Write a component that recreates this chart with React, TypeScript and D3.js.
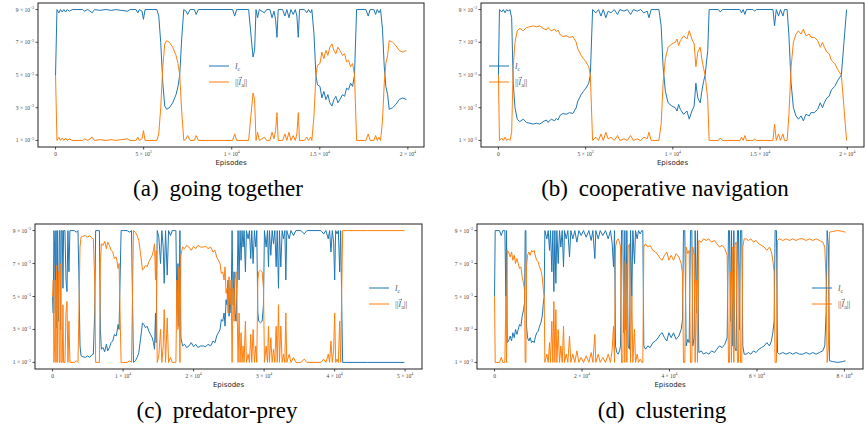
import React from "react";
import * as d3 from "d3";

type Row = [number, number, number]; // episode, l_c, ||l_a||  (values in 1e-3)

// (a) going together
const togetherRows: Row[] = [
  [0,5.0,5.0],[80,9.0,1.0],[190,8.8,1.2],[280,9.0,1.0],[380,8.85,1.15],[470,9.0,1.0],[570,8.85,1.15],[660,9.0,1.0],[790,8.9,1.1],[950,9.0,1.0],
  [1550,9.0,1.0],[1640,8.9,1.1],[1830,9.0,1.0],[2080,8.8,1.2],[2210,9.0,1.0],[2490,8.95,1.05],[2870,9.0,1.0],[3160,8.95,1.05],[3440,9.0,1.0],[3720,8.95,1.05],
  [4100,8.9,1.1],[4230,9.0,1.0],[4570,9.0,1.0],[4670,8.8,1.2],[4760,9.0,1.0],[4910,8.9,1.1],[4990,8.4,1.6],[5080,9.0,1.0],[5750,9.0,1.0],[5860,8.6,1.4],
  [5970,7.0,3.0],[6090,4.5,5.5],[6200,3.1,6.9],[6310,2.9,7.1],[6460,3.0,7.0],[6650,3.3,6.7],[6840,3.8,6.2],[6950,4.3,5.7],[7050,5.0,5.0],[7160,7.2,2.8],
  [7280,9.0,1.0],[7410,8.9,1.1],[7500,8.7,1.3],[7640,9.0,1.0],[7880,9.0,1.0],[7980,8.7,1.3],[8110,9.0,1.0],[10050,9.0,1.0],[10170,8.6,1.4],[10280,9.0,1.0],
  [10960,9.0,1.0],[11090,7.5,2.5],[11210,6.1,3.9],[11300,6.5,3.5],[11380,9.0,1.0],[11470,8.5,1.5],[11570,9.0,1.0],[11850,8.8,1.2],[11980,9.0,1.0],[12170,9.0,1.0],
  [12290,8.5,1.5],[12400,8.9,1.1],[12490,8.4,1.6],[12570,7.3,2.7],[12640,9.0,1.0],[12890,9.0,1.0],[13020,8.6,1.4],[13130,9.0,1.0],[13250,8.5,1.5],[13360,9.0,1.0],
  [13490,8.7,1.3],[13610,9.0,1.0],[13700,8.6,1.4],[13780,7.3,2.7],[13850,9.0,1.0],[14120,9.0,1.0],[14260,8.8,1.2],[14360,9.0,1.0],[14480,8.8,1.2],[14550,9.0,1.0],
  [14670,7.5,2.5],[14780,5.0,5.0],[14870,4.4,5.6],[15010,4.3,5.7],[15120,3.6,6.4],[15230,4.0,6.0],[15350,3.5,6.5],[15460,3.8,6.2],[15570,3.3,6.7],[15690,3.1,6.9],
  [15800,3.5,6.5],[15910,3.7,6.3],[16030,3.3,6.7],[16140,3.5,6.5],[16290,3.8,6.2],[16410,3.7,6.3],[16520,4.2,5.8],[16630,4.1,5.9],[16750,4.5,5.5],[16860,4.3,5.7],
  [16970,5.0,5.0],[17090,9.0,1.0],[17620,9.0,1.0],[17750,8.6,1.4],[17860,9.0,1.0],[18070,9.0,1.0],[18170,8.7,1.3],[18260,9.0,1.0],[18360,8.8,1.2],[18450,9.0,1.0],
  [18560,7.8,2.2],[18660,5.5,4.5],[18750,4.3,5.7],[18850,3.8,6.2],[18940,2.9,7.1],[19130,3.0,7.0],[19320,3.2,6.8],[19510,3.5,6.5],[19700,3.6,6.4],[19920,3.5,6.5],
];

// (b) cooperative navigation
const navigationRows: Row[] = [
  [0,5.0,5.0],[60,9.0,1.0],[190,8.85,1.15],[280,9.0,1.0],[380,8.8,1.2],[470,9.0,1.0],[570,8.9,1.1],[660,9.0,1.0],[760,8.5,1.5],[850,4.5,5.5],
  [950,3.0,7.0],[1080,2.3,7.7],[1230,2.15,7.85],[1420,2.3,7.7],[1610,2.1,7.9],[1800,2.05,7.95],[1990,2.0,8.0],[2180,2.05,7.95],[2370,2.0,8.0],[2560,2.15,7.85],
  [2750,2.25,7.75],[2840,2.1,7.9],[3030,2.3,7.7],[3220,2.2,7.8],[3320,2.35,7.65],[3410,2.25,7.75],[3550,2.55,7.45],[3700,2.65,7.35],[3890,2.6,7.4],[4080,2.7,7.3],
  [4270,2.65,7.35],[4460,3.0,7.0],[4550,3.4,6.6],[4650,3.6,6.4],[4740,3.8,6.2],[4870,4.0,6.0],[5020,4.2,5.8],[5180,4.5,5.5],[5270,5.0,5.0],[5400,9.0,1.0],
  [5590,8.8,1.2],[5740,9.0,1.0],[5880,8.6,1.4],[6010,9.0,1.0],[6160,8.5,1.5],[6290,8.9,1.1],[6450,8.8,1.2],[6640,9.0,1.0],[6830,8.7,1.3],[6960,9.0,1.0],
  [7200,8.9,1.1],[7390,9.0,1.0],[7580,8.7,1.3],[7740,9.0,1.0],[7960,8.9,1.1],[8150,9.0,1.0],[8340,8.8,1.2],[8530,8.9,1.1],[8630,8.5,1.5],[8760,9.0,1.0],
  [9200,9.0,1.0],[9330,8.0,2.0],[9440,5.5,4.5],[9570,4.0,6.0],[9730,3.3,6.7],[9950,3.1,6.9],[10140,3.0,7.0],[10240,2.8,7.2],[10330,3.2,6.8],[10430,2.9,7.1],
  [10620,2.6,7.4],[10810,2.8,7.2],[10940,2.3,7.7],[11090,2.8,7.2],[11220,3.1,6.9],[11320,4.5,5.5],[11430,3.6,6.4],[11570,3.3,6.7],[11660,4.0,6.0],[11760,4.6,5.4],
  [11850,5.0,5.0],[12000,6.5,3.5],[12080,9.0,1.0],[12610,9.0,1.0],[12720,8.85,1.15],[12840,9.0,1.0],[13840,9.0,1.0],[13940,8.8,1.2],[14030,9.0,1.0],[14130,8.7,1.3],
  [14220,9.0,1.0],[14600,9.0,1.0],[14690,8.9,1.1],[14790,9.0,1.0],[15740,9.0,1.0],[15830,8.0,2.0],[15930,9.0,1.0],[16060,8.6,1.4],[16170,9.0,1.0],[16310,8.6,1.4],
  [16400,9.0,1.0],[16550,9.0,1.0],[16650,7.5,2.5],[16780,4.5,5.5],[16910,3.0,7.0],[17060,2.5,7.5],[17200,2.3,7.7],[17350,2.5,7.5],[17480,2.2,7.8],[17630,2.6,7.4],
  [17820,2.5,7.5],[17920,2.7,7.3],[18110,2.7,7.3],[18300,2.9,7.1],[18450,3.3,6.7],[18580,3.0,7.0],[18680,3.3,6.7],[18830,3.6,6.4],[18960,3.7,6.3],[19090,4.1,5.9],
  [19280,4.3,5.7],[19470,4.7,5.3],[19660,5.0,5.0],[19810,7.0,3.0],[19960,9.0,1.0],
];

// (c) predator-prey
const predatorRows: Row[] = [
  [0,5.0,5.0],[90,4.0,6.0],[190,9.0,1.0],[280,8.0,2.0],[380,4.0,6.0],[470,9.0,1.0],[570,3.1,6.9],[660,9.0,1.0],[760,5.0,5.0],[850,3.5,6.5],
  [950,9.0,1.0],[1040,9.0,1.0],[1140,3.0,7.0],[1230,9.0,1.0],[1370,9.0,1.0],[1470,5.5,4.5],[1560,9.0,1.0],[1750,9.0,1.0],[1900,6.0,4.0],[2040,5.3,4.7],
  [2180,9.0,1.0],[2320,6.5,3.5],[2460,9.0,1.0],[2750,9.0,1.0],[3080,9.0,1.0],[3370,8.9,1.1],[3600,9.0,1.0],[3740,6.0,4.0],[3890,2.0,8.0],[4030,1.4,8.6],
  [4270,1.35,8.65],[4650,1.3,8.7],[4980,1.4,8.6],[5260,1.3,8.7],[5550,1.45,8.55],[5780,1.5,8.5],[5970,4.0,6.0],[6110,9.0,1.0],[6450,9.0,1.0],[6640,9.0,1.0],
  [6780,3.0,7.0],[6920,1.8,8.2],[7160,1.9,8.1],[7390,1.65,8.35],[7630,2.1,7.9],[7820,1.7,8.3],[8060,1.9,8.1],[8300,2.2,7.8],[8530,2.3,7.7],[8770,2.7,7.3],
  [9010,2.6,7.4],[9150,2.9,7.1],[9290,3.3,6.7],[9430,3.0,7.0],[9570,6.0,4.0],[9720,9.0,1.0],[10100,9.0,1.0],[10570,9.0,1.0],[10950,8.9,1.1],[11190,9.0,1.0],
  [11330,5.0,5.0],[11470,1.0,9.0],[11750,1.1,8.9],[11990,1.3,8.7],[12230,1.6,8.4],[12470,2.4,7.6],[12750,3.4,6.6],[12940,3.3,6.7],[13180,3.1,6.9],[13410,3.2,6.8],
  [13650,2.9,7.1],[13890,2.7,7.3],[14130,2.5,7.5],[14310,2.2,7.8],[14460,1.8,8.2],[14600,4.0,6.0],[14690,2.2,7.8],[14840,9.0,1.0],[15070,8.6,1.4],[15310,7.0,3.0],
  [15500,9.0,1.0],[15690,8.0,2.0],[15830,5.8,4.2],[16020,9.0,1.0],[16260,6.3,3.7],[16450,9.0,1.0],[16730,8.7,1.3],[16970,9.0,1.0],[17300,9.0,1.0],[17490,9.0,1.0],
  [17630,4.0,6.0],[17780,7.0,3.0],[17920,3.2,6.8],[18060,9.0,1.0],[18200,2.5,7.5],[18440,2.0,8.0],[18720,2.1,7.9],[19010,1.9,8.1],[19340,2.0,8.0],[19670,2.2,7.8],
  [20000,1.95,8.05],[20290,2.1,7.9],[20620,1.9,8.1],[21000,2.0,8.0],[21380,2.0,8.0],[21710,1.95,8.05],[22040,2.1,7.9],[22420,2.0,8.0],[22750,2.3,7.7],[23040,2.2,7.8],
  [23270,2.6,7.4],[23510,2.8,7.2],[23750,3.0,7.0],[23940,3.6,6.4],[24130,3.5,6.5],[24320,4.0,6.0],[24460,3.2,6.8],[24600,4.8,5.2],[24740,4.5,5.5],[24890,6.0,4.0],
  [25030,3.8,6.2],[25170,5.5,4.5],[25310,4.0,6.0],[25460,9.0,1.0],[25600,4.5,5.5],[25740,6.5,3.5],[25880,4.0,6.0],[26020,3.5,6.5],[26160,5.5,4.5],[26310,9.0,1.0],
  [26450,6.0,4.0],[26590,9.0,1.0],[26730,7.2,2.8],[26870,9.0,1.0],[27020,8.0,2.0],[27160,9.0,1.0],[27350,6.5,3.5],[27490,9.0,1.0],[27730,8.5,1.5],[27920,9.0,1.0],
  [28110,7.3,2.7],[28250,9.0,1.0],[28440,7.0,3.0],[28630,9.0,1.0],[28820,8.0,2.0],[28960,9.0,1.0],[29110,4.0,6.0],[29250,3.5,6.5],[29480,3.4,6.6],[29720,3.5,6.5],
  [29910,4.5,5.5],[30050,9.0,1.0],[30290,8.0,2.0],[30480,9.0,1.0],[30620,6.8,3.2],[30760,9.0,1.0],[30950,7.5,2.5],[31140,9.0,1.0],[31330,8.2,1.8],[31520,9.0,1.0],
  [31710,6.8,3.2],[31860,9.0,1.0],[32040,5.5,4.5],[32180,9.0,1.0],[32370,6.8,3.2],[32560,9.0,1.0],[32750,8.5,1.5],[32940,9.0,1.0],[33080,6.0,4.0],[33220,9.0,1.0],
  [33560,8.5,1.5],[33800,9.0,1.0],[34170,8.7,1.3],[34510,9.0,1.0],[35220,9.0,1.0],[35690,8.8,1.2],[36070,9.0,1.0],[38060,9.0,1.0],[38440,8.8,1.2],[38770,9.0,1.0],
  [39100,8.5,1.5],[39290,9.0,1.0],[39480,7.7,2.3],[39670,9.0,1.0],[39860,8.3,1.7],[40010,6.0,4.0],[40150,9.0,1.0],[40340,8.8,1.2],[40530,9.0,1.0],[40720,6.5,3.5],
  [40860,9.0,1.0],[41000,4.8,5.2],[41140,1.0,9.0],[44700,1.0,9.0],[49900,1.0,9.0],
];

// (d) clustering
const clusteringRows: Row[] = [
  [0,5.0,5.0],[150,9.0,1.0],[1140,9.0,1.0],[1520,8.7,1.3],[1900,9.0,1.0],[2360,9.0,1.0],[2590,5.0,5.0],[2740,9.0,1.0],[2900,2.2,7.8],[3200,2.3,7.7],
  [3580,2.6,7.4],[3890,2.3,7.7],[4190,2.8,7.2],[4500,2.5,7.5],[4800,3.0,7.0],[5100,2.7,7.3],[5410,3.0,7.0],[5710,3.3,6.7],[6020,3.2,6.8],[6320,3.8,6.2],
  [6630,4.2,5.8],[6860,4.6,5.4],[7010,9.0,1.0],[7160,9.0,1.0],[7310,3.2,6.8],[7540,2.5,7.5],[7850,2.3,7.7],[8150,2.5,7.5],[8460,2.2,7.8],[8760,2.3,7.7],
  [9070,2.2,7.8],[9370,2.6,7.4],[9680,2.8,7.2],[9980,2.9,7.1],[10290,3.2,6.8],[10590,3.4,6.6],[10900,3.8,6.2],[11120,4.5,5.5],[11350,5.0,5.0],[11500,9.0,1.0],
  [11960,8.5,1.5],[12270,9.0,1.0],[12570,7.8,2.2],[12800,9.0,1.0],[13100,6.5,3.5],[13330,9.0,1.0],[13560,5.3,4.7],[13790,9.0,1.0],[14020,5.8,4.2],[14250,9.0,1.0],
  [14550,7.0,3.0],[14860,9.0,1.0],[15160,8.0,2.0],[15470,9.0,1.0],[15770,6.8,3.2],[16000,9.0,1.0],[16380,8.5,1.5],[16760,9.0,1.0],[17140,7.4,2.6],[17450,9.0,1.0],
  [17900,8.5,1.5],[18360,9.0,1.0],[18820,8.3,1.7],[19280,9.0,1.0],[19810,8.7,1.3],[20340,9.0,1.0],[20950,8.6,1.4],[21560,9.0,1.0],[22100,8.4,1.6],[22480,9.0,1.0],
  [22930,7.3,2.7],[23160,9.0,1.0],[23700,8.5,1.5],[24150,9.0,1.0],[24760,8.7,1.3],[25370,9.0,1.0],[25980,8.5,1.5],[26510,9.0,1.0],[26900,8.2,1.8],[27200,6.8,3.2],
  [27430,9.0,1.0],[27660,2.0,8.0],[27960,1.6,8.4],[28270,1.5,8.5],[28570,1.7,8.3],[28800,2.0,8.0],[29030,9.0,1.0],[29330,9.0,1.0],[29560,2.8,7.2],[29790,9.0,1.0],
  [30020,3.0,7.0],[30250,9.0,1.0],[30550,2.0,8.0],[30860,1.8,8.2],[31090,9.0,1.0],[31390,5.0,5.0],[31620,9.0,1.0],[32000,7.0,3.0],[32230,9.0,1.0],[32610,8.5,1.5],
  [32910,9.0,1.0],[33300,8.8,1.2],[33680,9.0,1.0],[33900,9.0,1.0],[34130,2.0,8.0],[34510,1.8,8.2],[35050,2.0,8.0],[35580,1.9,8.1],[36190,2.2,7.8],[36800,2.3,7.7],
  [37410,2.5,7.5],[37870,2.7,7.3],[38320,2.8,7.2],[38860,2.5,7.5],[39390,2.3,7.7],[39850,2.8,7.2],[40380,2.5,7.5],[40910,2.8,7.2],[41520,2.4,7.6],[42130,2.6,7.4],
  [42670,3.0,7.0],[42970,3.6,6.4],[43200,9.0,1.0],[43500,9.0,1.0],[43810,2.0,8.0],[44190,2.4,7.6],[44500,2.2,7.8],[44800,9.0,1.0],[45110,9.0,1.0],[45330,2.0,8.0],
  [45640,2.5,7.5],[45870,9.0,1.0],[46170,4.0,6.0],[46400,9.0,1.0],[46700,1.6,8.4],[47240,1.7,8.3],[47770,1.5,8.5],[48380,1.6,8.4],[48990,1.5,8.5],[49600,1.7,8.3],
  [50290,1.6,8.4],[50820,1.8,8.2],[51430,2.0,8.0],[52040,1.9,8.1],[52650,2.1,7.9],[53180,2.5,7.5],[53490,9.0,1.0],[53720,9.0,1.0],[53950,3.5,6.5],[54170,9.0,1.0],
  [54480,2.0,8.0],[54710,9.0,1.0],[54930,1.9,8.1],[55240,1.7,8.3],[55540,9.0,1.0],[55770,9.0,1.0],[56000,3.0,7.0],[56230,9.0,1.0],[56530,9.0,1.0],[56760,2.0,8.0],
  [57070,1.5,8.5],[57520,1.5,8.5],[58060,1.6,8.4],[58590,1.5,8.5],[59200,1.7,8.3],[59810,1.6,8.4],[60420,1.8,8.2],[61030,1.9,8.1],[61640,2.0,8.0],[62250,2.2,7.8],
  [62860,2.0,8.0],[63310,2.3,7.7],[63620,2.8,7.2],[63920,3.5,6.5],[64150,9.0,1.0],[64450,9.0,1.0],[64690,1.6,8.4],[65140,1.5,8.5],[65900,1.6,8.4],[66670,1.5,8.5],
  [67430,1.6,8.4],[68190,1.5,8.5],[68950,1.6,8.4],[69720,1.5,8.5],[70480,1.5,8.5],[71240,1.6,8.4],[72000,1.5,8.5],[72760,1.6,8.4],[73520,1.5,8.5],[74280,1.6,8.4],
  [75050,1.7,8.3],[75500,2.0,8.0],[75810,4.0,6.0],[76040,9.0,1.0],[76340,8.0,2.0],[76570,1.1,8.9],[77330,1.05,8.95],[78470,1.0,9.0],[79620,1.05,8.95],[80230,1.1,8.9],
];

const yTicks = [1, 3, 5, 7, 9];
const yTickLabels = ["1 × 10^−3", "3 × 10^−3", "5 × 10^−3", "7 × 10^−3", "9 × 10^−3"];

const twentyKTicks = [0, 5000, 10000, 15000, 20000];
const twentyKTickLabels = ["0", "5 × 10^3", "1 × 10^4", "1.5 × 10^4", "2 × 10^4"];
const predatorTicks = [0, 10000, 20000, 30000, 40000, 50000];
const predatorTickLabels = ["0", "1 × 10^4", "2 × 10^4", "3 × 10^4", "4 × 10^4", "5 × 10^4"];
const clusteringTicks = [0, 20000, 40000, 60000, 80000];
const clusteringTickLabels = ["0", "2 × 10^4", "4 × 10^4", "6 × 10^4", "8 × 10^4"];

const blue = "#1f77b4";
const orange = "#ff7f0e";

// tick label: "5 × 10^3" -> base + superscript
const TickLabel = ({ x, y, label, anchor }: any) => {
  const [base, sup] = label.split("^");
  return (
    <text x={x} y={y} textAnchor={anchor} fontSize={5.5} fontFamily="Liberation Serif, serif" fill="#444">
      {base}
      {sup && <tspan fontSize={3.8} dy={-2.4}>{sup}</tspan>}
    </text>
  );
};

const Panel = ({ rows, ticks, tickLabels, box, legend, tag, caption, captionX, captionY }: any) => {
  const xMax = d3.max(rows, (r: Row) => r[0]) as number;
  const x = d3.scaleLinear().domain([-xMax * 0.05, xMax * 1.05]).range([box.left, box.right]);
  const lo = d3.min(rows, (r: Row) => Math.min(r[1], r[2])) as number;
  const hi = d3.max(rows, (r: Row) => Math.max(r[1], r[2])) as number;
  const pad = (hi - lo) * 0.05;
  const y = d3.scaleLinear().domain([lo - pad, hi + pad]).range([box.bottom, box.top]);

  const lcLine = d3.line<Row>().x((r) => x(r[0])).y((r) => y(r[1]));
  const laLine = d3.line<Row>().x((r) => x(r[0])).y((r) => y(r[2]));

  const lx = legend.x;
  const ly = legend.y;
  // small vector arrow over the l of ||l_a||
  const ax = lx + 29.6;
  const ay = ly + 11.6;

  return (
    <g>
      <path d={lcLine(rows) as string} fill="none" stroke={blue} strokeWidth={1} />
      <path d={laLine(rows) as string} fill="none" stroke={orange} strokeWidth={1} />

      {/* frame */}
      <rect x={box.left} y={box.top} width={box.right - box.left} height={box.bottom - box.top}
        fill="none" stroke="#222" strokeWidth={1} />

      {/* y ticks */}
      {yTicks.map((t, i) => (
        <g key={"y" + i}>
          <line x1={box.left - 2.5} x2={box.left} y1={y(t)} y2={y(t)} stroke="#222" strokeWidth={0.8} />
          <TickLabel x={box.left - 4} y={y(t) + 2} label={yTickLabels[i]} anchor="end" />
        </g>
      ))}

      {/* x ticks */}
      {ticks.map((t: number, i: number) => (
        <g key={"x" + i}>
          <line x1={x(t)} x2={x(t)} y1={box.bottom} y2={box.bottom + 2.5} stroke="#222" strokeWidth={0.8} />
          <TickLabel x={x(t)} y={box.bottom + 8.5} label={tickLabels[i]} anchor="middle" />
        </g>
      ))}

      <text x={(box.left + box.right) / 2} y={box.bottom + 18} textAnchor="middle"
        fontSize={7} fontFamily="DejaVu Sans, sans-serif" fill="#222">Episodes</text>

      {/* legend */}
      <line x1={lx} x2={lx + 20} y1={ly} y2={ly} stroke={blue} strokeWidth={1} />
      <line x1={lx} x2={lx + 20} y1={ly + 16} y2={ly + 16} stroke={orange} strokeWidth={1} />
      <text x={lx + 26} y={ly + 3} fontSize={9} fontFamily="Liberation Serif, serif" fill="#555">
        <tspan fontStyle="italic">l</tspan>
        <tspan fontSize={6} dy={2}>c</tspan>
      </text>
      <text x={lx + 26} y={ly + 19} fontSize={9} fontFamily="Liberation Serif, serif" fill="#555">
        ||<tspan fontStyle="italic">l</tspan>
        <tspan fontSize={6} dy={2}>a</tspan>
        <tspan dy={-2}>||</tspan>
      </text>
      <path d={`M${ax},${ay}H${ax + 3.4}M${ax + 2.3},${ay - 1}L${ax + 3.4},${ay}L${ax + 2.3},${ay + 1}`}
        fill="none" stroke="#555" strokeWidth={0.5} />

      {/* caption */}
      <text x={captionX} y={captionY} textAnchor="middle" fontSize={23}
        fontFamily="Liberation Serif, serif" fill="#000">
        {tag}
        <tspan dx={5}>{" " + caption}</tspan>
      </text>
    </g>
  );
};

export default function App() {
  return (
    <svg width={865} height={429} viewBox="0 0 865 429"
      style={{ position: "absolute", left: 0, top: 0, background: "#fff" }}>
      <rect x={0} y={0} width={865} height={429} fill="#fff" />
      <Panel rows={togetherRows} ticks={twentyKTicks} tickLabels={twentyKTickLabels}
        box={{ left: 38, right: 424, top: 3, bottom: 147 }} legend={{ x: 209, y: 66 }}
        tag="(a)" caption="going together" captionX={218} captionY={196} />
      <Panel rows={navigationRows} ticks={twentyKTicks} tickLabels={twentyKTickLabels}
        box={{ left: 481, right: 864, top: 3, bottom: 147 }} legend={{ x: 489, y: 66 }}
        tag="(b)" caption="cooperative navigation" captionX={665} captionY={196} />
      <Panel rows={predatorRows} ticks={predatorTicks} tickLabels={predatorTickLabels}
        box={{ left: 35, right: 422, top: 224, bottom: 369 }} legend={{ x: 369, y: 288 }}
        tag="(c)" caption="predator-prey" captionX={217} captionY={418} />
      <Panel rows={clusteringRows} ticks={clusteringTicks} tickLabels={clusteringTickLabels}
        box={{ left: 477, right: 863, top: 224, bottom: 369 }} legend={{ x: 812, y: 288 }}
        tag="(d)" caption="clustering" captionX={662} captionY={418} />
    </svg>
  );
}
